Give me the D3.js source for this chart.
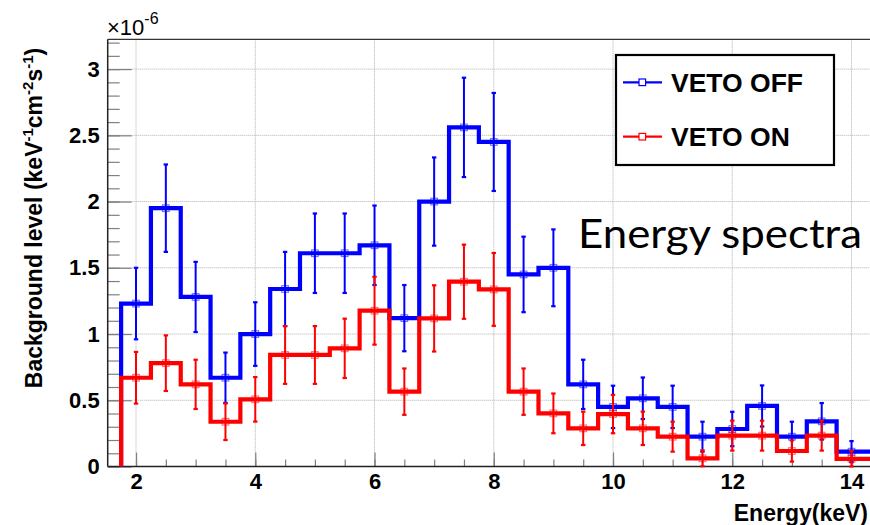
<!DOCTYPE html>
<html>
<head>
<meta charset="utf-8">
<script src="https://cdn.jsdelivr.net/npm/d3@7"></script>
<style>
    body{margin:0;background:#fff;}
    svg{display:block;background:#fff;}
    .tick text{font-family:"Liberation Sans",Arial,sans-serif;font-weight:bold;font-size:22px;fill:#000;}
</style>
</head>
<body>
<svg id="plot"></svg>
<script>
//Bin centres (keV), bin width is 0.5 keV
const binCenters = [2,2.5,3,3.5,4,4.5,5,5.5,6,6.5,7,7.5,8,8.5,9,9.5,10,10.5,11,11.5,12,12.5,13,13.5,14];

//Background level in units of 1e-6 keV^-1 cm^-2 s^-1
const vetoOff = [1.23,1.95,1.28,0.67,1.00,1.34,1.61,1.61,1.67,1.12,2.00,2.56,2.45,1.45,1.50,0.62,0.45,0.515,0.45,0.225,0.283,0.457,0.225,0.341,0.112];
const vetoOffErr = [0.27,0.33,0.265,0.19,0.24,0.28,0.30,0.30,0.30,0.25,0.333,0.375,0.37,0.285,0.29,0.186,0.16,0.157,0.16,0.113,0.13,0.155,0.113,0.138,0.08];

const vetoOn = [0.67,0.78,0.62,0.338,0.507,0.842,0.842,0.892,1.176,0.565,1.118,1.395,1.337,0.565,0.401,0.288,0.396,0.288,0.225,0.062,0.233,0.233,0.117,0.233,0.058];
const vetoOnErr = [0.195,0.21,0.186,0.138,0.168,0.218,0.218,0.224,0.256,0.175,0.25,0.28,0.275,0.175,0.15,0.126,0.145,0.126,0.113,0.06,0.113,0.113,0.08,0.113,0.06];

//Tick values
const xMajorTicks = [2,4,6,8,10,12,14];
const xMinorTicks = d3.range(2,15,0.5);
const yMajorTicks = [0,0.5,1,1.5,2,2.5,3];
const yMinorTicks = d3.range(0,3.25,0.1);

const legendLabels = ["VETO OFF","VETO ON"];
const seriesColors = ["#0000ff","#ff0000"];

//Svg size and frame
const width = 870;
const height = 525;
const frameLeft = 107.7;
const frameTop = 39.3;
const frameBottom = 466.5;

var svg = d3.select("svg")
    .attr("width",width)
    .attr("height",height);

//Scales
const xMin = 1.525, xMax = 14.75;
var x = d3.scaleLinear().domain([xMin,xMax]).range([frameLeft,frameLeft+(xMax-xMin)*59.625]);
var y = d3.scaleLinear().domain([0,3.225]).range([frameBottom,frameTop]);

//Grid lines
svg.selectAll(".vgrid")
    .data(xMajorTicks)
    .enter()
    .append("line")
    .attr("x1",(d)=>x(d))
    .attr("x2",(d)=>x(d))
    .attr("y1",frameTop)
    .attr("y2",frameBottom)
    .attr("stroke","#b0b0b0")
    .attr("stroke-dasharray","1,1");

svg.selectAll(".hgrid")
    .data(yMajorTicks.slice(1))
    .enter()
    .append("line")
    .attr("x1",frameLeft)
    .attr("x2",width)
    .attr("y1",(d)=>y(d))
    .attr("y2",(d)=>y(d))
    .attr("stroke","#b0b0b0")
    .attr("stroke-dasharray","1,1");

//Axes, ticks point into the frame
svg.append("g")
    .attr("transform","translate("+frameLeft+",0)")
    .call(d3.axisLeft(y).tickValues(yMajorTicks).tickSize(-24).tickPadding(8).tickFormat(d3.format("~g")));
svg.append("g")
    .attr("transform","translate("+frameLeft+",0)")
    .call(d3.axisLeft(y).tickValues(yMinorTicks).tickSize(-12).tickFormat(""));

svg.append("g")
    .attr("transform","translate(0,"+frameBottom+")")
    .call(d3.axisBottom(x).tickValues(xMajorTicks).tickSize(-14).tickPadding(7).tickFormat(d3.format("d")));
svg.append("g")
    .attr("transform","translate(0,"+frameBottom+")")
    .call(d3.axisBottom(x).tickValues(xMinorTicks).tickSize(-7).tickFormat(""));

svg.selectAll(".domain").remove();
svg.selectAll(".tick line").attr("stroke","#808080").attr("stroke-width",1.2);

//Frame lines
svg.append("line").attr("x1",frameLeft).attr("x2",width).attr("y1",frameBottom).attr("y2",frameBottom).attr("stroke","#222").attr("stroke-width",1.5);
svg.append("line").attr("x1",frameLeft).attr("x2",frameLeft).attr("y1",frameTop).attr("y2",frameBottom).attr("stroke","#222").attr("stroke-width",1.5);
svg.append("line").attr("x1",frameLeft).attr("x2",width).attr("y1",frameTop).attr("y2",frameTop).attr("stroke","#333").attr("stroke-width",1.2);

//Histogram steps and error bars
const halfBin = 0.25;
const stepLine = d3.line()
    .x((d)=>x(d[0]))
    .y((d)=>y(d[1]))
    .curve(d3.curveStepAfter);

function drawSeries(values,errors,color){
    var pts = [[binCenters[0]-halfBin,0]];
    binCenters.forEach((c,i)=>pts.push([c-halfBin,values[i]]));
    pts.push([xMax,values[values.length-1]]);

    svg.append("path")
        .attr("d",stepLine(pts))
        .attr("fill","none")
        .attr("stroke",color)
        .attr("stroke-width",4.2);

    const g = svg.append("g");
    binCenters.forEach((c,i)=>{
        const lo = Math.max(0,values[i]-errors[i]);
        const hi = values[i]+errors[i];
        g.append("line")
            .attr("x1",x(c)).attr("x2",x(c))
            .attr("y1",y(lo)).attr("y2",y(hi))
            .attr("stroke",color).attr("stroke-width",2);
        [lo,hi].forEach((v)=>{
            g.append("line")
                .attr("x1",x(c)-2.2).attr("x2",x(c)+2.2)
                .attr("y1",y(v)).attr("y2",y(v))
                .attr("stroke",color).attr("stroke-width",2.2);
        });
        g.append("rect")
            .attr("x",x(c)-3.3).attr("y",y(values[i])-3.3)
            .attr("width",6.6).attr("height",6.6)
            .attr("fill","none")
            .attr("stroke",color).attr("stroke-opacity",0.55).attr("stroke-width",1.2);
    });
}

drawSeries(vetoOff,vetoOffErr,seriesColors[0]);
drawSeries(vetoOn,vetoOnErr,seriesColors[1]);

//Exponent label
const expo = svg.append("text")
    .attr("x",107)
    .attr("y",35)
    .style("font-family","'Liberation Sans',Arial,sans-serif")
    .style("font-size","22px");
expo.append("tspan").text("\u00d710");
expo.append("tspan").attr("dy",-11).style("font-size","16px").text("-6");

//Axis titles
const yTitle = svg.append("text")
    .attr("transform","translate(42,218) rotate(-90)")
    .attr("text-anchor","middle")
    .style("font-family","'Liberation Sans',Arial,sans-serif")
    .style("font-weight","bold")
    .style("font-size","23px");
yTitle.append("tspan").text("Background level (keV");
yTitle.append("tspan").attr("dy",-9).style("font-size","15px").text("-1");
yTitle.append("tspan").attr("dy",9).text("cm");
yTitle.append("tspan").attr("dy",-9).style("font-size","15px").text("-2");
yTitle.append("tspan").attr("dy",9).text("s");
yTitle.append("tspan").attr("dy",-9).style("font-size","15px").text("-1");
yTitle.append("tspan").attr("dy",9).text(")");

svg.append("text")
    .attr("x",868)
    .attr("y",521)
    .attr("text-anchor","end")
    .style("font-family","'Liberation Sans',Arial,sans-serif")
    .style("font-weight","bold")
    .style("font-size","23px")
    .text("Energy(keV)");

//Legend
svg.append("rect")
    .attr("x",616)
    .attr("y",55)
    .attr("width",218)
    .attr("height",110)
    .attr("fill","#fff")
    .attr("stroke","#000")
    .attr("stroke-width",2.2);

const legendY = [82.3,136.7];
legendLabels.forEach((lab,i)=>{
    svg.append("line")
        .attr("x1",623).attr("x2",662)
        .attr("y1",legendY[i]).attr("y2",legendY[i])
        .attr("stroke",seriesColors[i]).attr("stroke-width",2.2);
    svg.append("rect")
        .attr("x",639).attr("y",legendY[i]-3.3)
        .attr("width",6.6).attr("height",6.6)
        .attr("fill","#fff")
        .attr("stroke",seriesColors[i]).attr("stroke-width",1.2);
    svg.append("text")
        .attr("x",671)
        .attr("y",legendY[i]+9.6)
        .style("font-family","'Liberation Sans',Arial,sans-serif")
        .style("font-weight","bold")
        .style("font-size","26.5px")
        .text(lab);
});

//Annotation
svg.append("text")
    .attr("x",578)
    .attr("y",248)
    .attr("textLength",284)
    .attr("lengthAdjust","spacingAndGlyphs")
    .style("font-family","Lato,'Noto Sans',sans-serif")
    .style("font-size","40px")
    .text("Energy spectra");
</script>
</body>
</html>
